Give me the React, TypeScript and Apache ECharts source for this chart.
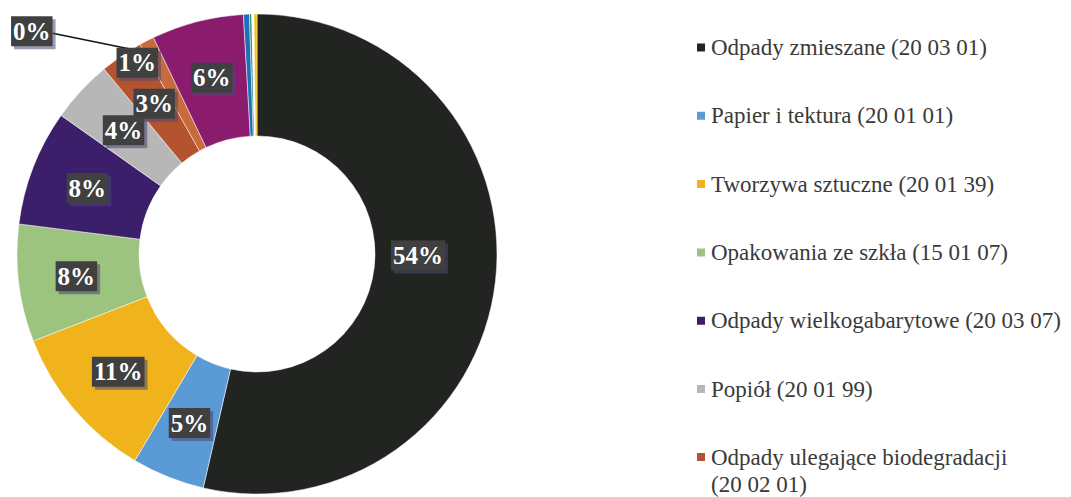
import React, { useEffect, useRef } from "react";
import * as echarts from "echarts";

// ---- data ----
const categories = [
  "Odpady zmieszane (20 03 01)",
  "Papier i tektura (20 01 01)",
  "Tworzywa sztuczne (20 01 39)",
  "Opakowania ze szkła (15 01 07)",
  "Odpady wielkogabarytowe (20 03 07)",
  "Popiół (20 01 99)",
  "Odpady ulegające biodegradacji (20 02 01)",
  "Pozostałe A",
  "Pozostałe B",
  "Pozostałe C",
  "Pozostałe D",
  "Pozostałe E",
  "Pozostałe F",
];
const values = [53.6, 4.9, 10.6, 7.9, 7.8, 4.2, 2.9, 1.0, 6.2, 0.4, 0.15, 0.15, 0.2];
const colors = [
  "#222421",
  "#5b9bd5",
  "#f1b31c",
  "#9cc47f",
  "#3c1f6b",
  "#b7b7b7",
  "#b4532f",
  "#c86a3c",
  "#8b1c6d",
  "#1f6fb8",
  "#2d8a7c",
  "#ffffff",
  "#f5c400",
];
const legendSingleLine = categories.slice(0, 6);
const legendWrapped = categories.slice(6, 7);
const ONE_IDX = 7;
const ZERO_IDX = 9;
const hiddenLabels = [10, 11, 12];

const SERIF = "'Liberation Serif', 'Times New Roman', Times, serif";
const LEGEND_LINE = 27;
const LEGEND_FONT = 23;
const LEGEND_COLOR = "#3a3a3a";

// ---- geometry ----
const CX = 257;
const CY = 254;
const R_IN = 118;
const R_OUT = 240;

const total = values.reduce((a, b) => a + b, 0);
function midAngle(i: number) {
  let s = 0;
  for (let k = 0; k < i; k++) s += values[k];
  return ((s + values[i] / 2) / total) * 360;
}
function polar(angleDeg: number, rho: number): [number, number] {
  const a = (angleDeg * Math.PI) / 180;
  return [CX + rho * Math.sin(a), CY - rho * Math.cos(a)];
}

const legendCommon = {
  type: "plain",
  orient: "vertical",
  left: 695,
  padding: 0,
  itemWidth: 10,
  itemHeight: 10,
  icon: "rect",
};

export default function App() {
  const ref = useRef<HTMLDivElement>(null);
  useEffect(() => {
    if (!ref.current) return;
    const chart = echarts.init(ref.current, undefined, { renderer: "svg" });
    const data = categories.map((name, i) => {
      const item: any = { name, value: values[i], itemStyle: { color: colors[i] } };
      if (hiddenLabels.includes(i)) item.label = { show: false };
      if (i === ZERO_IDX) {
        item.label = { position: "outside" };
        item.labelLine = {
          show: true,
          length: 5,
          length2: 5,
          lineStyle: { color: "#151515", width: 1.6 },
        };
      }
      return item;
    });
    const textBase = {
      fontFamily: SERIF,
      fontSize: LEGEND_FONT,
      lineHeight: LEGEND_LINE,
      color: LEGEND_COLOR,
    };
    chart.setOption({
      animation: false,
      backgroundColor: "#ffffff",
      legend: [
        {
          ...legendCommon,
          top: 34,
          height: 700,
          itemGap: 41.3,
          data: legendSingleLine,
          textStyle: textBase,
        },
        {
          ...legendCommon,
          // marker centred on the first of two text lines (a blank line balances the block)
          top: 462 - 5 - 1.5 * LEGEND_LINE,
          height: 300,
          data: legendWrapped,
          formatter: (name: string) => {
            const parts = name.split(" (");
            return "{s| }\n{t|" + parts[0] + "}\n{t|(" + parts[1] + "}";
          },
          textStyle: {
            ...textBase,
            rich: {
              s: { ...textBase },
              t: { ...textBase },
            },
          },
        },
      ],
      series: [
        {
          type: "pie",
          center: [CX, CY],
          radius: [R_IN, R_OUT],
          startAngle: 90,
          clockwise: true,
          avoidLabelOverlap: false,
          itemStyle: { borderColor: "#ffffff", borderWidth: 0.5 },
          label: {
            show: true,
            position: "inside",
            formatter: (p: any) => Math.round(p.percent) + "%",
            color: "#ffffff",
            fontFamily: SERIF,
            fontWeight: "bold",
            fontSize: 25,
            lineHeight: 25,
            backgroundColor: "#404040",
            padding: [3, 2, 2, 2],
            shadowColor: "rgba(70,70,110,0.55)",
            shadowOffsetX: 3,
            shadowOffsetY: 3,
          },
          labelLine: { show: false },
          labelLayout: (p: any) => {
            const i = p.dataIndex;
            if (i === 0) {
              const [x, y] = polar(90.5, (R_IN + R_OUT) / 2 - 18);
              return { x, y, align: "center", verticalAlign: "middle" };
            }
            if (i === ONE_IDX) {
              const [x, y] = polar(midAngle(i) - 4.7, R_OUT * 0.94);
              return { x, y, align: "center", verticalAlign: "middle" };
            }
            if (i === ZERO_IDX) {
              const [x, y] = polar(314.7, R_OUT * 1.32);
              const [sx, sy] = polar(midAngle(i), (R_IN + R_OUT) / 2);
              const ex = x + p.labelRect.width / 2;
              return {
                x,
                y,
                align: "center",
                verticalAlign: "middle",
                labelLinePoints: [
                  [sx, sy],
                  [(sx + ex) / 2, (sy + y) / 2],
                  [ex, y + 2],
                ],
              };
            }
            return {};
          },
          data,
        },
      ],
    });
    return () => chart.dispose();
  }, []);
  return (
    <div
      ref={ref}
      style={{ position: "absolute", left: 0, top: 0, width: 1071, height: 497, background: "#fff" }}
    />
  );
}
